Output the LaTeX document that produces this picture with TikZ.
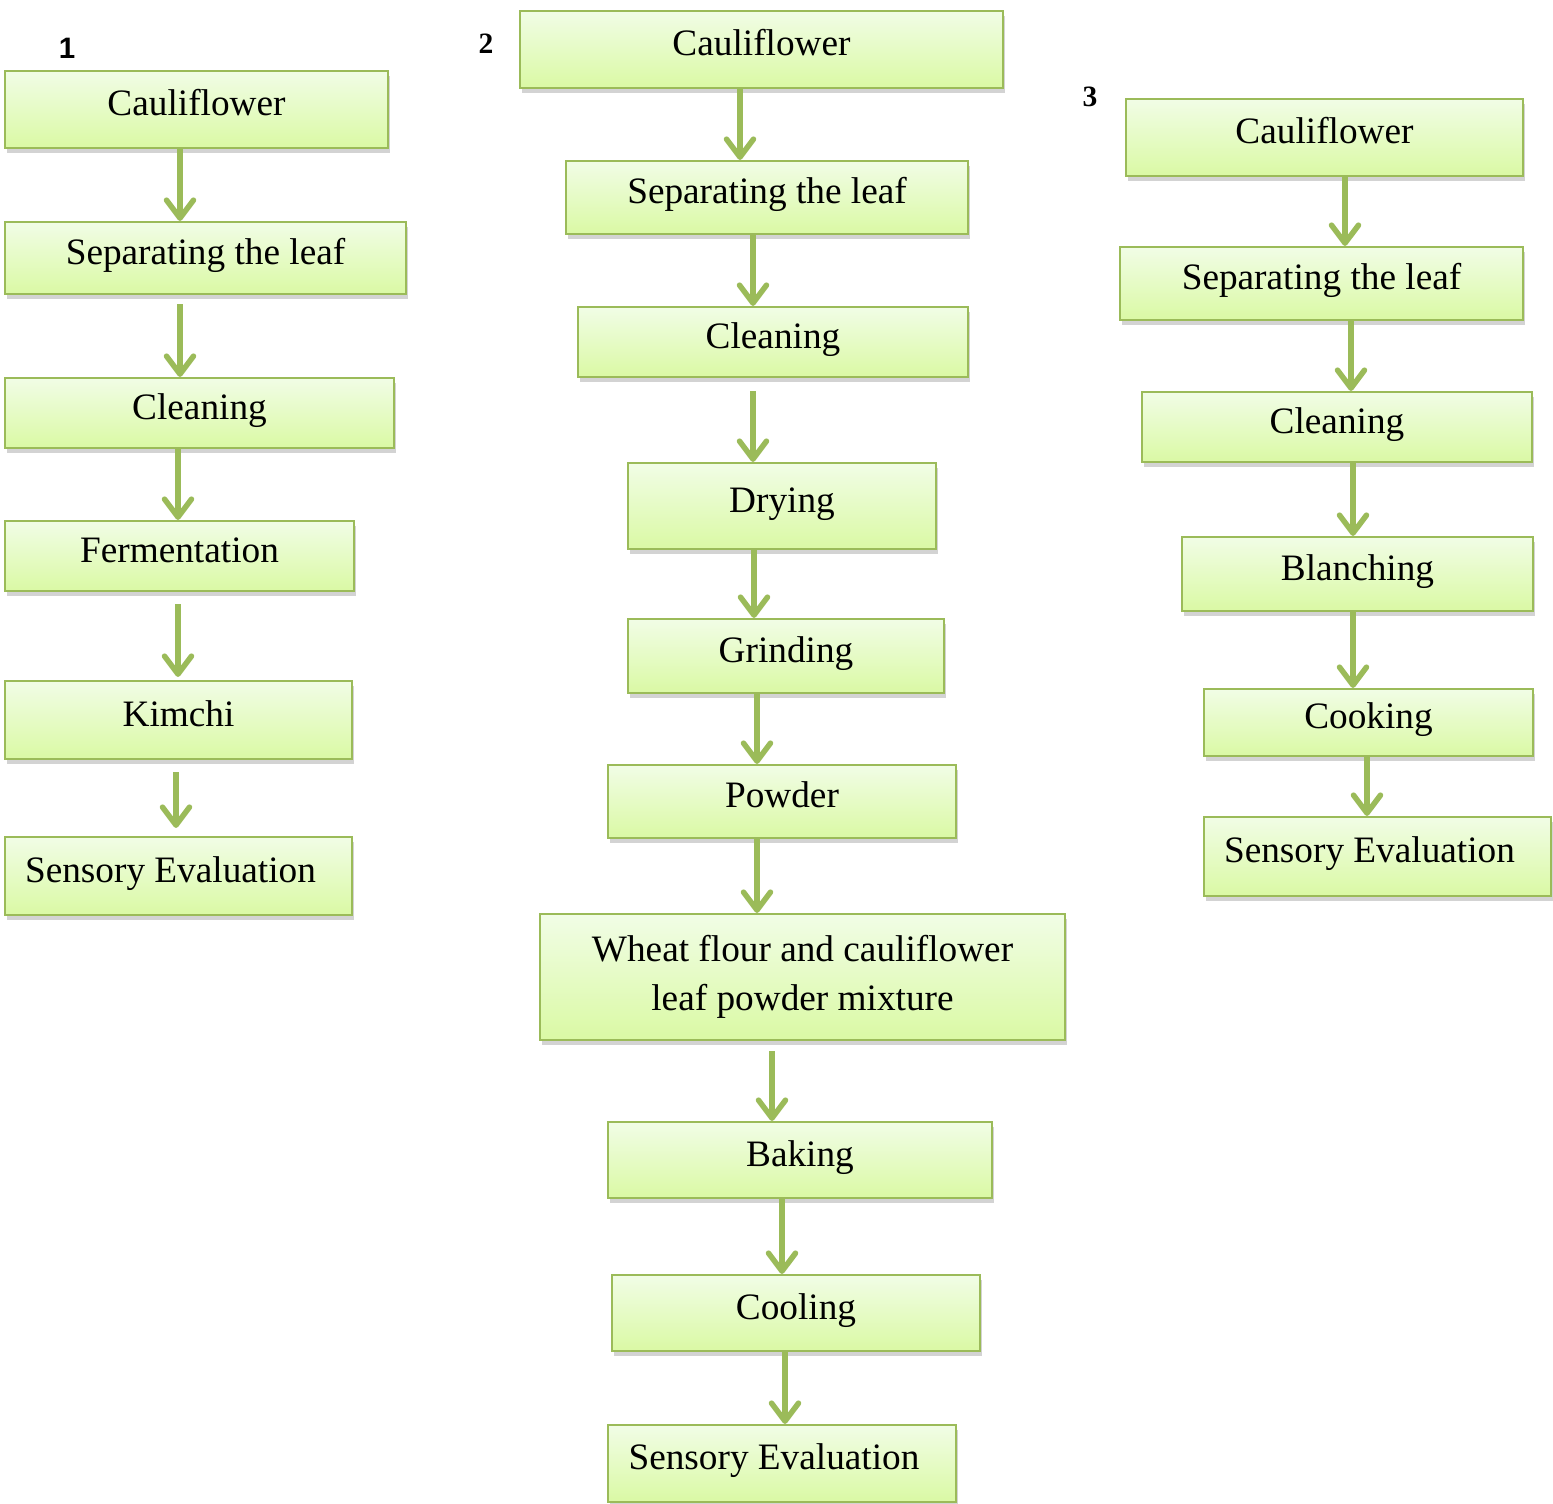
\documentclass[tikz,border=0pt]{standalone}
\usepackage{fontspec}
\setmainfont{Liberation Serif}
\newfontfamily\labsans{Liberation Sans}
\usetikzlibrary{arrows.meta,shadows}
\definecolor{leafline}{HTML}{9BBB59}
\definecolor{leaftop}{HTML}{F1FDE6}
\definecolor{leafbot}{HTML}{DAF9A4}
\begin{document}
\begin{tikzpicture}[x=0.01cm, y=-0.01cm,
  stage/.style={rectangle, draw=leafline, line width=0.6pt, inner sep=0pt,
    top color=leaftop, bottom color=leafbot,
    drop shadow={opacity=0.35, shadow xshift=0.6pt, shadow yshift=-1.3pt},
    font=\fontsize{10.6}{13.9}\selectfont, text height=0.7em, text depth=0.35em},
  flow/.style={leafline, line width=0.055cm,
    -{Straight Barb[round, length=0.18cm, width=0.27cm]}},
  num/.style={font=\fontsize{8.4}{10}\selectfont\bfseries}]
  \useasboundingbox (0,0) rectangle (1553,1504);

  % 1: kimchi
  \node[num] (lab1) at (67,48) {\labsans 1};
  \node[stage, minimum width=3.83cm, minimum height=0.77cm] (cauli1) at (196.5,109.5) {Cauliflower};
  \node[stage, minimum width=4.01cm, minimum height=0.72cm] (leaf1) at (205.5,258) {Separating the leaf};
  \node[stage, minimum width=3.89cm, minimum height=0.70cm] (clean1) at (199.5,413) {Cleaning};
  \node[stage, minimum width=3.49cm, minimum height=0.70cm] (ferment) at (179.5,556) {Fermentation};
  \node[stage, minimum width=3.47cm, minimum height=0.78cm] (kimchi) at (178.5,720) {Kimchi};
  \node[stage, minimum width=3.47cm, minimum height=0.78cm] (sensory1) at (178.5,876) {Sensory Evaluation\hspace*{0.16cm}};

  \draw[flow] (cauli1.south -| 180,0) -- (leaf1.north -| 180,0);
  \draw[flow, shorten <=0.09cm] (leaf1.south -| 180,0) -- (clean1.north -| 180,0);
  \draw[flow] (clean1.south -| 178,0) -- (ferment.north -| 178,0);
  \draw[flow, shorten <=0.12cm, shorten >=0.03cm] (ferment.south -| 178,0) -- (kimchi.north -| 178,0);
  \draw[flow, shorten <=0.12cm, shorten >=0.08cm] (kimchi.south -| 176,0) -- (sensory1.north -| 176,0);

  % 2: biscuit
  \node[num] (lab2) at (486,44) {2};
  \node[stage, minimum width=4.83cm, minimum height=0.77cm] (cauli2) at (761.5,49.5) {Cauliflower};
  \node[stage, minimum width=4.02cm, minimum height=0.73cm] (leaf2) at (767,197.5) {Separating the leaf};
  \node[stage, minimum width=3.90cm, minimum height=0.70cm] (clean2) at (773,342) {Cleaning};
  \node[stage, minimum width=3.08cm, minimum height=0.86cm] (dry) at (782,506) {Drying};
  \node[stage, minimum width=3.16cm, minimum height=0.74cm] (grind) at (786,656) {Grinding};
  \node[stage, minimum width=3.48cm, minimum height=0.73cm] (powder) at (782,801.5) {Powder};
  \node[stage, minimum width=5.25cm, minimum height=1.26cm, align=center,
    text height={}, text depth={}] (mix) at (802.5,977)
    {Wheat flour and cauliflower\\leaf powder mixture};
  \node[stage, minimum width=3.84cm, minimum height=0.76cm] (bake) at (800,1160) {Baking};
  \node[stage, minimum width=3.68cm, minimum height=0.76cm] (cool) at (796,1313) {Cooling};
  \node[stage, minimum width=3.48cm, minimum height=0.77cm] (sensory2) at (782,1463.5) {Sensory Evaluation\hspace*{0.16cm}};

  \draw[flow] (cauli2.south -| 740,0) -- (leaf2.north -| 740,0);
  \draw[flow] (leaf2.south -| 753,0) -- (clean2.north -| 753,0);
  \draw[flow, shorten <=0.13cm] (clean2.south -| 753,0) -- (dry.north -| 753,0);
  \draw[flow] (dry.south -| 754,0) -- (grind.north -| 754,0);
  \draw[flow] (grind.south -| 757,0) -- (powder.north -| 757,0);
  \draw[flow] (powder.south -| 757,0) -- (mix.north -| 757,0);
  \draw[flow, shorten <=0.10cm] (mix.south -| 772,0) -- (bake.north -| 772,0);
  \draw[flow] (bake.south -| 782,0) -- (cool.north -| 782,0);
  \draw[flow] (cool.south -| 785,0) -- (sensory2.north -| 785,0);

  % 3: cooked leaf
  \node[num] (lab3) at (1090,97) {3};
  \node[stage, minimum width=3.97cm, minimum height=0.77cm] (cauli3) at (1324.5,137.5) {Cauliflower};
  \node[stage, minimum width=4.03cm, minimum height=0.73cm] (leaf3) at (1321.5,283.5) {Separating the leaf};
  \node[stage, minimum width=3.90cm, minimum height=0.70cm] (clean3) at (1337,427) {Cleaning};
  \node[stage, minimum width=3.51cm, minimum height=0.74cm] (blanch) at (1357.5,574) {Blanching};
  \node[stage, minimum width=3.29cm, minimum height=0.67cm] (cook) at (1368.5,722.5) {Cooking};
  \node[stage, minimum width=3.47cm, minimum height=0.79cm] (sensory3) at (1377.5,856.5) {Sensory Evaluation\hspace*{0.16cm}};

  \draw[flow] (cauli3.south -| 1345,0) -- (leaf3.north -| 1345,0);
  \draw[flow] (leaf3.south -| 1351,0) -- (clean3.north -| 1351,0);
  \draw[flow] (clean3.south -| 1353,0) -- (blanch.north -| 1353,0);
  \draw[flow] (blanch.south -| 1353,0) -- (cook.north -| 1353,0);
  \draw[flow] (cook.south -| 1367,0) -- (sensory3.north -| 1367,0);
\end{tikzpicture}
\end{document}
